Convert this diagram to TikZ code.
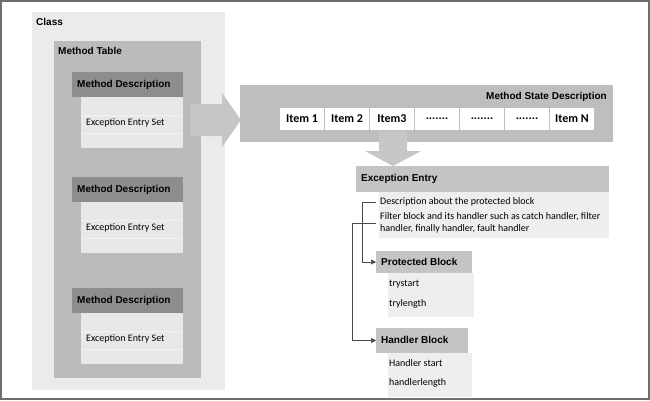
\documentclass[tikz,border=0pt]{standalone}
\usepackage{fontspec}
\setmainfont{Carlito}
\newfontfamily\hdfont{Liberation Sans}
\usetikzlibrary{fit,arrows.meta}
\definecolor{frameC}{HTML}{6E6E6E}
\definecolor{classC}{HTML}{EBEBEB}
\definecolor{tableC}{HTML}{BBBBBB}
\definecolor{mdC}{HTML}{8D8D8D}
\definecolor{bodyC}{HTML}{E8E8E8}
\definecolor{arrowC}{HTML}{C6C6C6}
\definecolor{msdC}{HTML}{BEBEBE}
\definecolor{hdrC}{HTML}{C4C4C4}
\definecolor{lbodyC}{HTML}{EEEEEE}
\definecolor{lineC}{HTML}{4A4A4A}
\tikzset{
  box/.style={inner sep=0pt, outer sep=0pt, draw=none},
  hd/.style={font=\hdfont\bfseries\fontsize{10}{12}\selectfont, inner sep=0pt, anchor=west, text=black},
  bd/.style={font=\fontsize{10}{12}\selectfont, inner sep=0pt, anchor=west, text=black},
  itm/.style={font=\bfseries\fontsize{12}{14}\selectfont, inner sep=0pt, text=black},
  conn/.style={draw=lineC, line width=0.6pt, -{Triangle[length=5pt,width=5pt]}},
  bigarrow/.style={fill=arrowC, draw=none}
}
\begin{document}
\begin{tikzpicture}[x=1pt,y=-1pt]
\useasboundingbox (0,0) rectangle (650,400);
\fill[white] (0,0) rectangle (650,400);
\node[box, draw=frameC, line width=1.5pt, fit={(1,1) (649,399)}] (frame) {};
% Class
\node[box, fill=classC, fit={(32,12) (225,390)}] (class) {};
\node[hd] (classL) at (36,22) {Class};
% Method table
\node[box, fill=tableC, fit={(54,41) (201,378)}] (table) {};
\node[hd] (tableL) at (58,51) {Method Table};
% right arrow
\path[bigarrow] (190,104) -- (222,104) -- (222,93) -- (241,120) -- (222,147) -- (222,136) -- (190,136) -- cycle;
% method descriptions
\foreach \i/\y in {1/72, 2/177, 3/288}{
  \node[box, fill=mdC, fit={(72,\y) (183,\y+25)}] (md\i) {};
  \node[hd] (mdL\i) at (77,\y+12.5) {Method Description};
  \node[box, fill=bodyC, fit={(81,\y+25) (183,\y+76)}] (es\i) {};
  \draw[white!45!bodyC, line width=1pt] (81,\y+43) -- (183,\y+43) (81,\y+61) -- (183,\y+61);
  \node[bd] (esL\i) at (86,\y+51) {Exception Entry Set};
}
% Method state description
\node[box, fill=msdC, fit={(240,85) (613,142)}] (msd) {};
\node[hd, anchor=east] (msdL) at (607,97) {Method State Description};
\foreach \i/\t in {0/Item 1, 1/Item 2, 2/Item3, 3/{.......}, 4/{.......}, 5/{.......}, 6/Item N}{
  \node[box, fill=white, fit={(280+\i*45,108) (324+\i*45,130)}] (it\i) {};
  \node[itm] (itL\i) at (it\i.center) {\t};
}
% down arrow
\path[bigarrow] (379,131) -- (407,131) -- (407,151) -- (421,151) -- (393,166) -- (365,151) -- (379,151) -- cycle;
% Exception entry
\node[box, fill=hdrC, fit={(356,166) (609,192)}] (ee) {};
\node[hd] (eeL) at (361,179) {Exception Entry};
\node[box, fill=lbodyC, fit={(379,192) (609,238)}] (eeB) {};
\node[bd] (ee1) at (380,202) {Description about the protected block};
\node[bd] (ee2) at (380,217) {Filter block and its handler such as catch handler, filter};
\node[bd] (ee3) at (380,229) {handler, finally handler, fault handler};
% Protected block
\node[box, fill=hdrC, fit={(376,251) (472,273)}] (pb) {};
\node[hd] (pbL) at (381,262) {Protected Block};
\node[box, fill=lbodyC, fit={(388,273) (474,317)}] (pbB) {};
\node[bd] (pb1) at (389,284) {trystart};
\node[bd] (pb2) at (389,304) {trylength};
% Handler block
\node[box, fill=hdrC, fit={(376,328) (468,353)}] (hb) {};
\node[hd] (hbL) at (381,340) {Handler Block};
\node[box, fill=lbodyC, fit={(388,353) (472,397)}] (hbB) {};
\node[bd] (hb1) at (389,363) {Handler start};
\node[bd] (hb2) at (389,383) {handlerlength};
% connectors
\coordinate (c1) at (376,202);
\coordinate (c2) at (376,223);
\draw[conn] (c1) -- ++(-14,0) |- (pb.west);
\draw[conn] (c2) -- ++(-24,0) |- (hb.west);
\end{tikzpicture}
\end{document}
